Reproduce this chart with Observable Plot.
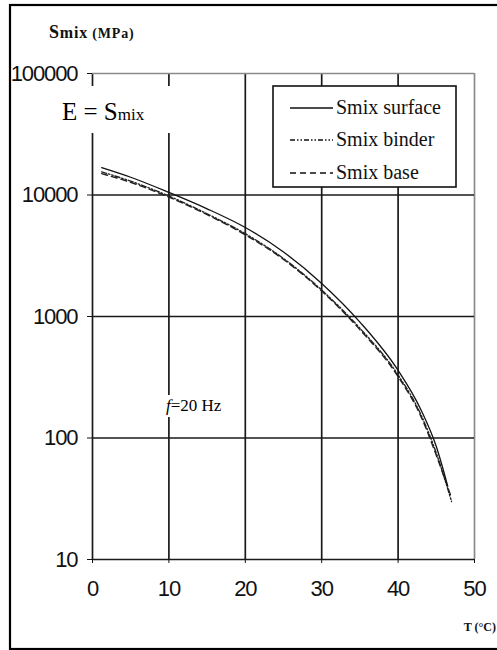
<!DOCTYPE html>
<html>
<head>
<meta charset="utf-8">
<script src="https://cdn.jsdelivr.net/npm/d3@7"></script>
<script src="https://cdn.jsdelivr.net/npm/@observablehq/plot@0.6"></script>
<style>
  html, body { margin: 0; padding: 0; background: white; }
  svg { display: block; }
</style>
</head>
<body>
<div id="chart"></div>
<script>
// ---- data ----
const xTicks = [0, 10, 20, 30, 40, 50];
const yTicks = [10, 100, 1000, 10000, 100000];

const surfaceT = [1.2, 5, 10, 15, 20, 25, 30, 35, 40, 43, 45, 46.5];
const surfaceS = [16800, 14000, 10500, 7700, 5400, 3400, 1870, 900, 360, 170, 85, 40];

const binderT = [1.2, 5, 10, 15, 20, 25, 30, 35, 40, 43, 45, 47];
const binderS = [15500, 13000, 9800, 7000, 4800, 3000, 1650, 800, 330, 155, 75, 30];

const baseT = [1.2, 5, 10, 15, 20, 25, 30, 35, 40, 43, 45, 47];
const baseS = [15000, 12700, 9600, 6900, 4700, 2950, 1620, 780, 320, 150, 72, 32];

const seriesNames = ["Smix surface", "Smix binder", "Smix base"];
const seriesDash = [null, "5,2,1.5,2,1.5,2", "6,4"];

const toRows = (T, S) => T.map((t, i) => ({t, s: S[i]}));
const surface = toRows(surfaceT, surfaceS);
const binder = toRows(binderT, binderS);
const base = toRows(baseT, baseS);

const gridColor = "#1a1a1a";
const frameGray = "#8a8a8a";
const tickFont = "'Liberation Sans', Arial, sans-serif";

const svg = Plot.plot({
  width: 497,
  height: 650,
  marginTop: 73,
  marginRight: 23,
  marginBottom: 91,
  marginLeft: 92,
  style: {
    fontFamily: tickFont,
    fontSize: "22px",
    color: "#111",
    background: "white",
    overflow: "visible"
  },
  x: {domain: [0, 50], ticks: xTicks, tickSize: 4, label: null, tickFormat: () => ""},
  y: {type: "log", domain: [10, 100000], ticks: yTicks, tickSize: 5, label: null, tickFormat: () => ""},
  marks: [
    Plot.ruleX(xTicks.filter(d => d < 50), {stroke: gridColor, strokeWidth: 1.7}),
    Plot.ruleX(xTicks.filter(d => d >= 50), {stroke: frameGray, strokeWidth: 1.7}),
    Plot.ruleY(yTicks.filter(d => d < 100000), {stroke: gridColor, strokeWidth: 1.7}),
    Plot.ruleY(yTicks.filter(d => d >= 100000), {stroke: frameGray, strokeWidth: 1.7}),
    Plot.line(base, {x: "t", y: "s", stroke: "#222", strokeWidth: 1.4, strokeDasharray: seriesDash[2], curve: "monotone-x"}),
    Plot.line(binder, {x: "t", y: "s", stroke: "#222", strokeWidth: 1.4, strokeDasharray: seriesDash[1], curve: "monotone-x"}),
    Plot.line(surface, {x: "t", y: "s", stroke: "#111", strokeWidth: 1.3, curve: "monotone-x"}),
    // tick labels
    Plot.text(yTicks, {y: d => d, text: d => String(d), frameAnchor: "left", dx: -15, textAnchor: "end",
      fontSize: 22, fontFamily: tickFont, fill: "#111"}),
    Plot.text(xTicks, {x: d => d, text: d => String(d), frameAnchor: "bottom", dy: 36,
      fontSize: 22, fontFamily: tickFont, fill: "#111"})
  ]
});

const root = d3.select(svg);
root.selectAll("[aria-label^='x-axis'] line, [aria-label^='y-axis'] line")
  .attr("stroke-width", 1.7);
root.selectAll("g[aria-label='text'] text").style("letter-spacing", "-1.1px");

const g = root.append("g").attr("text-anchor", "start");

// outer border
g.append("rect")
  .attr("x", 10).attr("y", 5).attr("width", 490).attr("height", 644)
  .attr("fill", "none").attr("stroke", "black").attr("stroke-width", 2.2);

// y title
const yt = g.append("text")
  .attr("x", 49).attr("y", 38)
  .attr("text-anchor", "start")
  .style("letter-spacing", "0.8px")
  .attr("font-family", "'Liberation Serif', 'DejaVu Serif', serif")
  .attr("font-weight", "bold").attr("fill", "#111");
yt.append("tspan").attr("font-size", "18px").text("S");
yt.append("tspan").attr("font-size", "16px").text("mix");
yt.append("tspan").attr("font-size", "14px").text(" (MPa)");

// x title
g.append("text")
  .attr("x", 496).attr("y", 631)
  .attr("text-anchor", "end")
  .attr("font-family", "'Liberation Serif', 'DejaVu Serif', serif")
  .attr("font-weight", "bold").attr("font-size", "12px").attr("fill", "#111")
  .text("T (°C)");

// E = Smix annotation (white backing box)
g.append("rect").attr("x", 56).attr("y", 86).attr("width", 120).attr("height", 47).attr("fill", "white");
const e = g.append("text")
  .attr("x", 62).attr("y", 120)
  .attr("text-anchor", "start")
  .attr("font-family", "'Liberation Serif', 'Times New Roman', serif")
  .attr("fill", "black");
e.append("tspan").attr("font-size", "25px").text("E = S");
e.append("tspan").attr("font-size", "17px").text("mix");

// f = 20 Hz annotation
g.append("rect").attr("x", 163).attr("y", 395).attr("width", 60).attr("height", 22).attr("fill", "white");
const f = g.append("text")
  .attr("x", 166).attr("y", 411)
  .attr("text-anchor", "start")
  .attr("font-family", "'Liberation Serif', 'Times New Roman', serif")
  .attr("font-size", "17px").attr("fill", "black");
f.append("tspan").attr("font-style", "italic").text("f");
f.append("tspan").text("=20 Hz");

// legend
const lg = g.append("g");
lg.append("rect")
  .attr("x", 273).attr("y", 86).attr("width", 183).attr("height", 101)
  .attr("fill", "white").attr("stroke", "#111").attr("stroke-width", 1.6);
const rowY = [108, 140, 173];
seriesNames.forEach((name, i) => {
  lg.append("line")
    .attr("x1", 290).attr("x2", 333).attr("y1", rowY[i]).attr("y2", rowY[i])
    .attr("stroke", "#111").attr("stroke-width", 1.4)
    .attr("stroke-dasharray", seriesDash[i]);
  lg.append("text")
    .attr("x", 336).attr("y", rowY[i] + 6)
    .attr("text-anchor", "start")
    .attr("font-family", "'Liberation Serif', 'Times New Roman', serif")
    .attr("font-size", "20px").attr("fill", "#111")
    .text(name);
});

document.getElementById("chart").appendChild(svg);
</script>
</body>
</html>
